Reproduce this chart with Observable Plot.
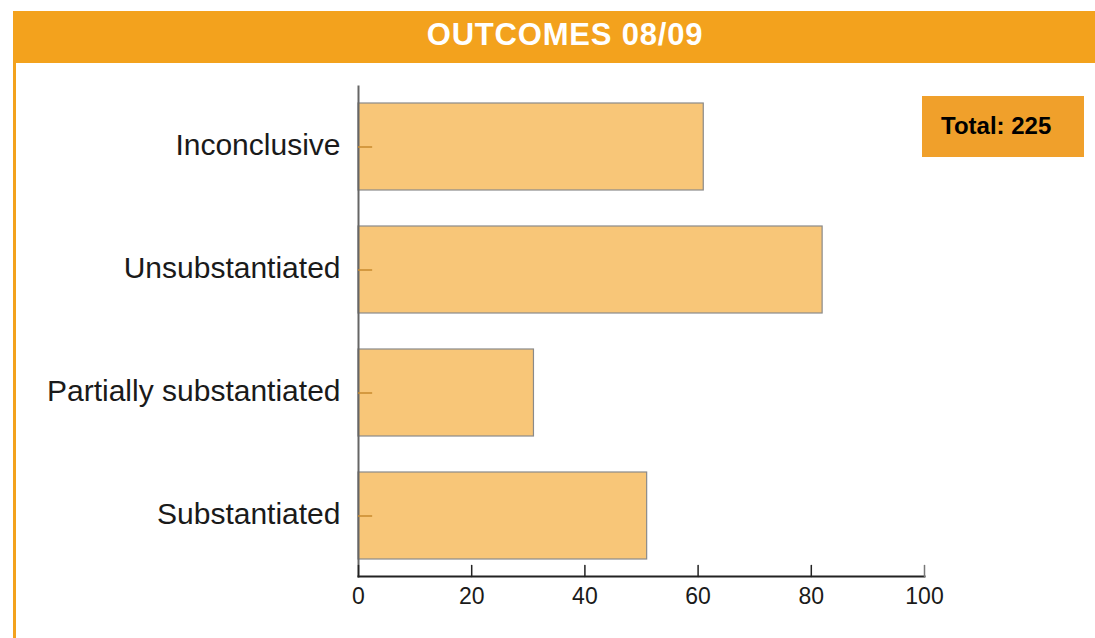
<!DOCTYPE html>
<html>
<head>
<meta charset="utf-8">
<script src="https://cdn.jsdelivr.net/npm/d3@7"></script>
<script src="https://cdn.jsdelivr.net/npm/@observablehq/plot@0.6"></script>
<style>
  html, body { margin: 0; padding: 0; background: #fff; width: 1095px; height: 638px; overflow: hidden; position: relative; font-family: "Liberation Sans", Arial, sans-serif; }
  #header { position: absolute; left: 13px; top: 11px; width: 1104px; height: 52px; background: #F3A21D; color: #fff; font-weight: bold; font-size: 31px; text-align: center; line-height: 48px; letter-spacing: 0.8px; }
  #leftbar { position: absolute; left: 13px; top: 63px; width: 3px; height: 580px; background: #F3A21D; }
  #total { position: absolute; left: 922px; top: 96px; width: 162px; height: 61px; background: #F0A02B; color: #000; font-weight: bold; font-size: 24px; line-height: 60px; box-sizing: border-box; padding-left: 19px; }
  #chart { position: absolute; left: 0; top: 63px; }
</style>
</head>
<body>
<div id="header">OUTCOMES 08/09</div>
<div id="leftbar"></div>
<div id="total">Total: 225</div>
<div id="chart"></div>
<script>
const categories = ["Inconclusive", "Unsubstantiated", "Partially substantiated", "Substantiated"];
const values = [61, 82, 31, 51];
const xTicks = [0, 20, 40, 60, 80, 100];

const data = categories.map((c, i) => ({category: c, value: values[i]}));

const upTick = {draw(context, l) { context.moveTo(0, 0); context.lineTo(0, -l); }};

const chart = Plot.plot({
  width: 1095,
  height: 575,
  marginLeft: 358,
  marginRight: 171,
  marginTop: 23,
  marginBottom: 62,
  style: {fontFamily: "'Liberation Sans', Arial, sans-serif", color: "#222", background: "transparent"},
  x: {domain: [0, 100], ticks: xTicks},
  y: {domain: categories, paddingInner: 0.29, paddingOuter: 0.135, align: 0.5},
  marks: [
    Plot.barX(data, {x: "value", y: "category", fill: "#F8C678", stroke: "#8a8a8a", strokeWidth: 1.2}),
    Plot.frame({anchor: "left", stroke: "#666", strokeWidth: 2}),
    Plot.frame({anchor: "bottom", stroke: "#222", strokeWidth: 2}),
    Plot.vector(xTicks, {x: d => d, frameAnchor: "bottom", length: 11, rotate: 0, anchor: "start", shape: upTick, stroke: d => d === 100 ? "#777" : "#222", strokeWidth: 1.5}),
    Plot.ruleY(categories, {y: d => d, x1: 0, x2: 2.5, stroke: "#C98A2E", strokeWidth: 1.5}),
    Plot.axisY({tickSize: 0, tickPadding: 18, fontSize: 30, fill: "#1a1a1a", label: null, dy: -2}),
    Plot.axisX({tickSize: 0, tickPadding: 11, fontSize: 23, fill: "#1a1a1a", label: null, ticks: xTicks})
  ]
});
document.getElementById("chart").appendChild(chart);
</script>
</body>
</html>
